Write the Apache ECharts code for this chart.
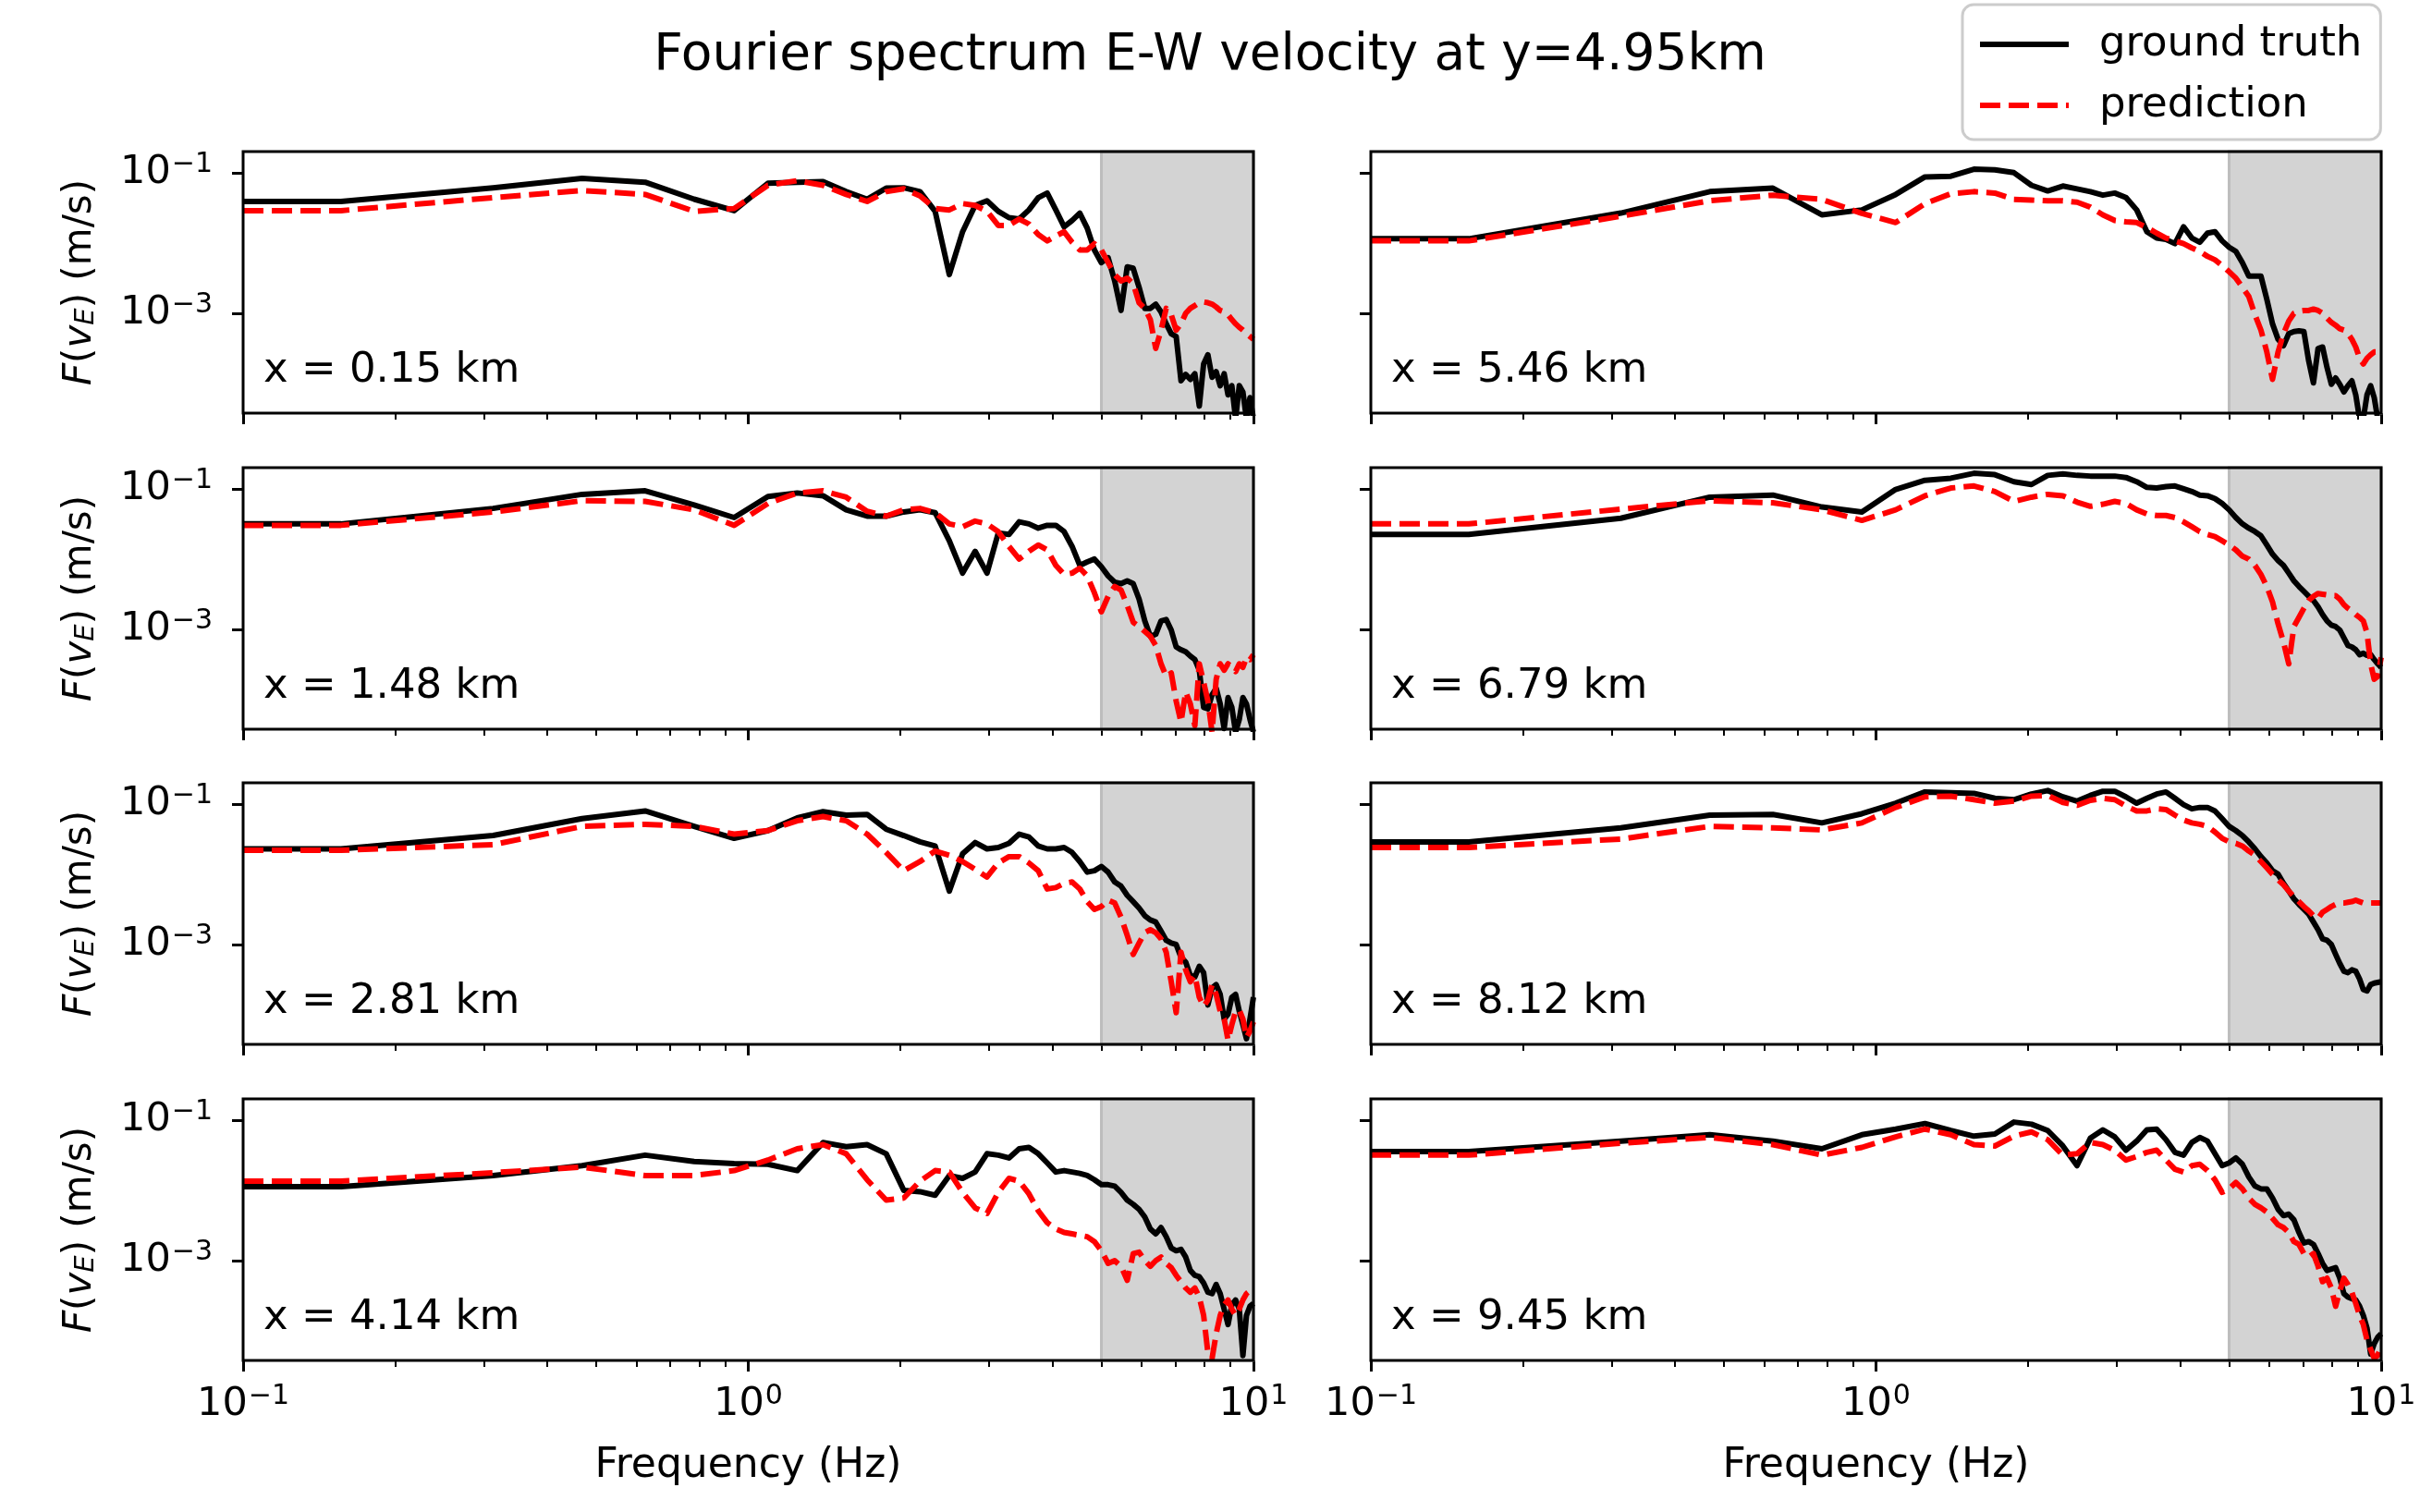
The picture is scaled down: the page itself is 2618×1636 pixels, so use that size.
<!DOCTYPE html>
<html>
<head>
<meta charset="utf-8">
<script src="https://cdn.jsdelivr.net/npm/echarts@6/dist/echarts.min.js"></script>
<style>
html, body { margin: 0; padding: 0; background: #fff; }
#main { width: 2618px; height: 1636px; }
</style>
</head>
<body>
<div id="main"></div>
<script>
// frequencies (Hz) of the spectrum samples
var freqHz = [0.1, 0.15625, 0.3125, 0.46875, 0.625, 0.78125, 0.9375, 1.09375, 1.25, 1.40625, 1.5625,
  1.71875, 1.875, 2.03125, 2.1875, 2.34375, 2.5, 2.65625, 2.8125, 2.96875, 3.125,
  3.28125, 3.4375, 3.59375, 3.75, 3.90625, 4.0625, 4.21875, 4.375, 4.53125, 4.6875,
  4.84375, 5.0, 5.15625, 5.3125, 5.46875, 5.625, 5.78125, 5.9375, 6.09375, 6.25,
  6.40625, 6.5625, 6.71875, 6.875, 7.03125, 7.1875, 7.34375, 7.5, 7.65625, 7.8125,
  7.96875, 8.125, 8.28125, 8.4375, 8.59375, 8.75, 8.90625, 9.0625, 9.21875, 9.375,
  9.53125, 9.6875, 9.84375, 10.0];

// panel labels, in reading order (left column, right column per row)
var stations = ['x = 0.15 km', 'x = 5.46 km', 'x = 1.48 km', 'x = 6.79 km',
  'x = 2.81 km', 'x = 8.12 km', 'x = 4.14 km', 'x = 9.45 km'];

// log10 of the amplitude in m/s, one value per frequency
var truth015 = [-1.41, -1.41, -1.215, -1.08, -1.136, -1.377, -1.54, -1.15, -1.136, -1.127, -1.27,
  -1.377, -1.22, -1.215, -1.27, -1.55, -2.45, -1.84, -1.465, -1.40, -1.55,
  -1.64, -1.66, -1.53, -1.355, -1.29, -1.53, -1.77, -1.68, -1.575, -1.79,
  -2.10, -2.28, -2.21, -2.54, -2.96, -2.34, -2.36, -2.63, -2.93, -2.93,
  -2.87, -2.98, -3.15, -3.29, -3.33, -3.96, -3.87, -3.94, -3.86, -4.32,
  -3.72, -3.59, -3.91, -3.83, -4.03, -3.86, -4.16, -4.03, -4.5, -4.03,
  -4.12, -4.5, -4.2, -4.5];
var pred015 = [-1.54, -1.54, -1.355, -1.254, -1.31, -1.55, -1.51, -1.18, -1.114, -1.18, -1.31,
  -1.41, -1.27, -1.23, -1.33, -1.51, -1.53, -1.44, -1.465, -1.55, -1.75,
  -1.75, -1.66, -1.73, -1.88, -1.97, -1.90, -1.84, -1.99, -2.10, -2.10,
  -2.01, -2.10, -2.28, -2.45, -2.54, -2.50, -2.58, -2.85, -2.93, -3.09,
  -3.50, -3.24, -2.93, -3.02, -3.24, -3.15, -3.0, -2.93, -2.89, -2.85,
  -2.84, -2.85, -2.87, -2.91, -2.96, -2.98, -3.02, -3.09, -3.15, -3.20,
  -3.24, -3.29, -3.33, -3.37];

var truth546 = [-1.94, -1.94, -1.575, -1.27, -1.22, -1.60, -1.53, -1.31, -1.06, -1.05, -0.95,
  -0.96, -1.0, -1.18, -1.26, -1.19, -1.23, -1.27, -1.32, -1.29, -1.355,
  -1.53, -1.84, -1.93, -1.95, -2.01, -1.77, -1.93, -1.99, -1.86, -1.84,
  -1.97, -2.06, -2.12, -2.28, -2.47, -2.47, -2.47, -2.80, -3.15, -3.37,
  -3.46, -3.29, -3.26, -3.25, -3.26, -3.68, -3.99, -3.50, -3.48, -3.77,
  -4.01, -3.92, -4.01, -4.12, -4.03, -3.96, -4.16, -4.5, -4.5, -4.16,
  -4.03, -4.2, -4.5, -4.5];
var pred546 = [-1.97, -1.97, -1.62, -1.40, -1.32, -1.38, -1.58, -1.71, -1.44, -1.30, -1.27,
  -1.29, -1.38, -1.39, -1.40, -1.40, -1.42, -1.49, -1.60, -1.68, -1.70,
  -1.71, -1.78, -1.86, -1.93, -1.97, -2.01, -2.07, -2.12, -2.19, -2.24,
  -2.32, -2.41, -2.50, -2.63, -2.76, -3.02, -3.24, -3.55, -3.94, -3.55,
  -3.29, -3.11, -3.0, -2.97, -2.96, -2.96, -2.94, -2.96, -3.0, -3.07,
  -3.13, -3.17, -3.22, -3.24, -3.29, -3.37, -3.48, -3.64, -3.72, -3.64,
  -3.59, -3.55, -3.55, -3.55];

var truth148 = [-1.50, -1.50, -1.28, -1.08, -1.03, -1.23, -1.41, -1.11, -1.06, -1.10, -1.30,
  -1.39, -1.39, -1.33, -1.30, -1.34, -1.74, -2.20, -1.89, -2.20, -1.63,
  -1.65, -1.47, -1.50, -1.56, -1.52, -1.52, -1.61, -1.82, -2.09, -2.04,
  -2.0, -2.11, -2.24, -2.33, -2.35, -2.31, -2.35, -2.57, -2.88, -3.10,
  -3.07, -2.88, -2.86, -3.01, -3.25, -3.29, -3.32, -3.38, -3.43, -3.58,
  -4.11, -4.13, -3.93, -3.84, -4.06, -4.41, -3.97, -4.11, -4.46, -4.28,
  -3.97, -4.06, -4.28, -4.46];
var pred148 = [-1.52, -1.52, -1.33, -1.17, -1.18, -1.30, -1.52, -1.21, -1.06, -1.03, -1.12,
  -1.32, -1.39, -1.30, -1.28, -1.34, -1.50, -1.54, -1.46, -1.50, -1.61,
  -1.82, -2.0, -1.89, -1.80, -1.87, -2.09, -2.22, -2.20, -2.13, -2.24,
  -2.48, -2.75, -2.53, -2.39, -2.44, -2.66, -2.90, -2.96, -3.03, -3.10,
  -3.23, -3.49, -3.67, -3.62, -4.02, -4.32, -3.89, -4.06, -4.37, -3.49,
  -3.75, -4.02, -4.46, -3.71, -3.49, -3.58, -3.49, -3.54, -3.60, -3.49,
  -3.54, -3.40, -3.43, -3.36];

var truth679 = [-1.65, -1.65, -1.42, -1.12, -1.09, -1.26, -1.33, -1.01, -0.88, -0.85, -0.78,
  -0.80, -0.90, -0.94, -0.81, -0.79, -0.81, -0.82, -0.82, -0.82, -0.84,
  -0.90, -0.98, -0.99, -0.97, -0.96, -1.0, -1.04, -1.09, -1.10, -1.14,
  -1.21, -1.30, -1.41, -1.50, -1.56, -1.61, -1.67, -1.80, -1.93, -2.02,
  -2.09, -2.20, -2.31, -2.39, -2.46, -2.53, -2.59, -2.68, -2.79, -2.88,
  -2.94, -2.96, -3.01, -3.12, -3.23, -3.25, -3.29, -3.36, -3.34, -3.37,
  -3.36, -3.43, -3.49, -3.54];
var pred679 = [-1.50, -1.50, -1.29, -1.17, -1.20, -1.30, -1.45, -1.30, -1.10, -0.99, -0.96,
  -1.04, -1.18, -1.12, -1.08, -1.10, -1.19, -1.25, -1.22, -1.18, -1.21,
  -1.30, -1.36, -1.38, -1.38, -1.41, -1.47, -1.54, -1.61, -1.65, -1.68,
  -1.74, -1.80, -1.87, -1.96, -2.0, -2.09, -2.22, -2.39, -2.61, -2.92,
  -3.18, -3.49, -2.96, -2.83, -2.70, -2.59, -2.53, -2.49, -2.50, -2.51,
  -2.52, -2.52, -2.57, -2.65, -2.70, -2.74, -2.79, -2.83, -2.88, -3.05,
  -3.49, -3.71, -3.67, -3.40];

var truth281 = [-1.64, -1.64, -1.45, -1.21, -1.10, -1.32, -1.49, -1.38, -1.20, -1.11, -1.16,
  -1.15, -1.36, -1.45, -1.54, -1.60, -2.24, -1.71, -1.55, -1.64, -1.62,
  -1.56, -1.43, -1.47, -1.60, -1.64, -1.64, -1.62, -1.69, -1.82, -1.97,
  -1.95, -1.89, -1.97, -2.11, -2.17, -2.30, -2.39, -2.48, -2.59, -2.65,
  -2.68, -2.81, -2.94, -2.98, -3.0, -3.18, -3.25, -3.44, -3.46, -3.31,
  -3.40, -3.86, -3.62, -3.57, -3.71, -4.06, -3.99, -3.75, -3.71, -3.95,
  -4.14, -4.34, -4.06, -3.75];
var pred281 = [-1.66, -1.66, -1.58, -1.32, -1.29, -1.32, -1.43, -1.38, -1.24, -1.18, -1.24,
  -1.43, -1.69, -1.95, -1.82, -1.67, -1.73, -1.82, -1.93, -2.04, -1.84,
  -1.75, -1.75, -1.84, -1.95, -2.21, -2.19, -2.13, -2.11, -2.21, -2.39,
  -2.50, -2.46, -2.37, -2.41, -2.61, -2.87, -3.14, -2.98, -2.83, -2.79,
  -2.83, -2.92, -3.11, -3.53, -3.97, -3.11, -3.36, -3.53, -3.44, -3.75,
  -3.88, -3.79, -3.57, -3.71, -3.95, -4.06, -4.36, -4.14, -3.95, -3.93,
  -4.06, -4.32, -4.23, -4.10];

var truth812 = [-1.54, -1.54, -1.34, -1.16, -1.15, -1.27, -1.14, -0.99, -0.83, -0.84, -0.85,
  -0.92, -0.94, -0.86, -0.81, -0.90, -0.96, -0.88, -0.82, -0.82, -0.90,
  -0.99, -0.92, -0.86, -0.83, -0.92, -1.01, -1.07, -1.05, -1.05, -1.10,
  -1.21, -1.32, -1.38, -1.45, -1.54, -1.64, -1.75, -1.84, -1.95, -2.0,
  -2.13, -2.24, -2.35, -2.43, -2.50, -2.57, -2.68, -2.79, -2.92, -2.94,
  -3.0, -3.14, -3.27, -3.38, -3.40, -3.36, -3.38, -3.49, -3.64, -3.66,
  -3.57, -3.55, -3.54, -3.53];
var pred812 = [-1.62, -1.62, -1.50, -1.32, -1.34, -1.37, -1.27, -1.05, -0.90, -0.89, -0.94,
  -0.99, -0.96, -0.89, -0.88, -0.98, -1.02, -0.95, -0.92, -0.94, -1.03,
  -1.10, -1.10, -1.07, -1.08, -1.16, -1.23, -1.27, -1.29, -1.32, -1.40,
  -1.49, -1.54, -1.56, -1.60, -1.67, -1.73, -1.82, -1.91, -2.0, -2.08,
  -2.15, -2.24, -2.32, -2.39, -2.46, -2.52, -2.59, -2.63, -2.54, -2.50,
  -2.46, -2.43, -2.41, -2.41, -2.40, -2.39, -2.37, -2.39, -2.41, -2.41,
  -2.41, -2.41, -2.41, -2.41];

var truth414 = [-1.95, -1.95, -1.79, -1.65, -1.50, -1.59, -1.62, -1.63, -1.72, -1.32, -1.38,
  -1.35, -1.48, -2.0, -2.02, -2.07, -1.79, -1.83, -1.74, -1.48, -1.50,
  -1.54, -1.41, -1.39, -1.48, -1.61, -1.74, -1.72, -1.74, -1.76, -1.79,
  -1.85, -1.92, -1.92, -1.94, -2.03, -2.14, -2.20, -2.27, -2.38, -2.55,
  -2.62, -2.53, -2.66, -2.82, -2.86, -2.84, -2.95, -3.14, -3.21, -3.23,
  -3.32, -3.45, -3.47, -3.34, -3.47, -3.69, -3.91, -3.63, -3.56, -3.69,
  -4.35, -3.78, -3.65, -3.61];
var pred414 = [-1.87, -1.87, -1.75, -1.67, -1.79, -1.79, -1.72, -1.57, -1.41, -1.35, -1.48,
  -1.85, -2.14, -2.11, -1.87, -1.72, -1.74, -2.03, -2.25, -2.33, -2.03,
  -1.83, -1.87, -2.05, -2.29, -2.46, -2.55, -2.60, -2.62, -2.64, -2.66,
  -2.73, -2.86, -3.04, -3.00, -3.08, -3.28, -2.90, -2.88, -3.0, -3.08,
  -3.00, -2.95, -3.04, -3.10, -3.21, -3.30, -3.39, -3.45, -3.39, -3.52,
  -3.78, -4.31, -4.39, -4.04, -3.78, -3.63, -3.56, -3.69, -3.78, -3.69,
  -3.56, -3.47, -3.43, -3.41];

var truth945 = [-1.45, -1.45, -1.30, -1.21, -1.30, -1.41, -1.21, -1.13, -1.05, -1.15, -1.23,
  -1.20, -1.03, -1.06, -1.15, -1.37, -1.65, -1.26, -1.14, -1.24, -1.43,
  -1.30, -1.14, -1.13, -1.28, -1.46, -1.50, -1.32, -1.25, -1.30, -1.48,
  -1.65, -1.61, -1.54, -1.63, -1.81, -1.94, -1.98, -1.98, -2.11, -2.27,
  -2.36, -2.34, -2.42, -2.60, -2.75, -2.73, -2.77, -2.90, -3.04, -3.14,
  -3.12, -3.10, -3.25, -3.47, -3.52, -3.54, -3.56, -3.65, -3.78, -3.96,
  -4.33, -4.18, -4.09, -4.04];
var pred945 = [-1.50, -1.50, -1.33, -1.25, -1.35, -1.50, -1.39, -1.24, -1.13, -1.21, -1.35,
  -1.37, -1.23, -1.17, -1.28, -1.50, -1.48, -1.32, -1.35, -1.43, -1.57,
  -1.52, -1.46, -1.43, -1.57, -1.70, -1.74, -1.65, -1.63, -1.72, -1.85,
  -2.03, -1.98, -1.89, -1.98, -2.11, -2.20, -2.25, -2.31, -2.40, -2.49,
  -2.53, -2.60, -2.73, -2.77, -2.90, -2.95, -2.90, -3.08, -3.30, -3.25,
  -3.39, -3.65, -3.43, -3.25, -3.34, -3.45, -3.61, -3.78, -3.91, -4.13,
  -4.26, -4.39, -4.35, -4.22];

var truthSets = [truth015, truth546, truth148, truth679, truth281, truth812, truth414, truth945];
var predSets = [pred015, pred546, pred148, pred679, pred281, pred812, pred414, pred945];

// axis ticks: powers of ten (exponents) and minor tick frequencies
var xTickExps = [-1, 0, 1];
var xMinorHz = [0.2, 0.3, 0.4, 0.5, 0.6, 0.7, 0.8, 0.9, 2, 3, 4, 5, 6, 7, 8, 9];
var yTickExps = [-3, -1];
var bandHz = [5, 10];   // shaded band

var FONT = 'DejaVu Sans';
var chart = echarts.init(document.getElementById('main'), null, { renderer: 'canvas' });

// layout of the 4 x 2 panels (px)
var colLeft = [263, 1483];
var rowTop = [164, 506, 847, 1189];
var panelW = 1093, panelH = 283;
var yMin = -4.42, yMax = -0.70;

function expLabel(v) {
  var e = v < 0 ? '\u2212' + (-v) : '' + v;
  return '{b|10}{s|' + e + '}';
}
var expRich = {
  b: { fontSize: 43, fontFamily: FONT, color: '#000', lineHeight: 48 },
  s: { fontSize: 30, fontFamily: FONT, color: '#000', lineHeight: 48, verticalAlign: 'top', padding: [0, 0, 0, 1] }
};

var grids = [], xAxes = [], yAxes = [], series = [], graphics = [];
var minorExps = xMinorHz.map(function (f) { return Math.log10(f); });

for (var i = 0; i < 8; i++) {
  var row = Math.floor(i / 2), col = i % 2;
  grids.push({
    left: colLeft[col], top: rowTop[row], width: panelW, height: panelH,
    show: true, borderColor: '#000', borderWidth: 3, backgroundColor: 'rgba(0,0,0,0)', z: 10
  });
}
// major x axes
for (var i = 0; i < 8; i++) {
  var row = Math.floor(i / 2);
  xAxes.push({
    type: 'value', gridIndex: i, min: -1, max: 1, position: 'bottom',
    axisLine: { show: false, onZero: false },
    splitLine: { show: false },
    axisTick: { show: true, customValues: xTickExps, length: 12, lineStyle: { color: '#000', width: 3 } },
    axisLabel: { show: row === 3, customValues: xTickExps, formatter: expLabel, margin: 24, rich: expRich },
    name: row === 3 ? 'Frequency (Hz)' : '',
    nameLocation: 'middle', nameGap: 93,
    nameTextStyle: { fontSize: 44, fontFamily: FONT, color: '#000' }
  });
}
// minor x ticks
for (var i = 0; i < 8; i++) {
  xAxes.push({
    type: 'value', gridIndex: i, min: -1, max: 1, position: 'bottom',
    axisLine: { show: false, onZero: false },
    splitLine: { show: false },
    axisTick: { show: true, customValues: minorExps, length: 7, lineStyle: { color: '#000', width: 2 } },
    axisLabel: { show: false }
  });
}
for (var i = 0; i < 8; i++) {
  var col = i % 2;
  yAxes.push({
    type: 'value', gridIndex: i, min: yMin, max: yMax,
    axisLine: { show: false, onZero: false },
    splitLine: { show: false },
    axisTick: { show: true, customValues: yTickExps, length: 12, lineStyle: { color: '#000', width: 3 } },
    axisLabel: { show: col === 0, customValues: yTickExps, formatter: expLabel, margin: 33, rich: expRich },
    name: col === 0 ? '{i|F}({i|v}{e|E}) (m/s)' : '',
    nameLocation: 'middle', nameRotate: 90, nameGap: 155,
    nameTextStyle: {
      fontSize: 42, fontFamily: FONT, color: '#000',
      rich: {
        i: { fontSize: 42, fontFamily: FONT, fontStyle: 'italic', color: '#000' },
        e: { fontSize: 29, fontFamily: FONT, fontStyle: 'italic', color: '#000', verticalAlign: 'bottom' }
      }
    }
  });
}

for (var i = 0; i < 8; i++) {
  var row = Math.floor(i / 2), col = i % 2;
  var t = truthSets[i], p = predSets[i];
  var tData = [], pData = [];
  for (var k = 0; k < freqHz.length; k++) {
    var lx = Math.log10(freqHz[k]);
    if (k < t.length) tData.push([lx, t[k]]);
    if (k < p.length) pData.push([lx, p[k]]);
  }
  series.push({
    type: 'line', name: 'band', xAxisIndex: i, yAxisIndex: i, data: [], z: 1,
    markArea: {
      silent: true,
      itemStyle: { color: '#d3d3d3', borderColor: '#bdbdbd', borderWidth: 3 },
      data: [[{ xAxis: Math.log10(bandHz[0]) }, { xAxis: Math.log10(bandHz[1]) }]]
    }
  });
  series.push({
    type: 'line', name: 'ground truth', xAxisIndex: i, yAxisIndex: i, data: tData,
    symbol: 'none', z: 3,
    lineStyle: { color: '#000', width: 6, join: 'round' },
    itemStyle: { color: '#000' }
  });
  series.push({
    type: 'line', name: 'prediction', xAxisIndex: i, yAxisIndex: i, data: pData,
    symbol: 'none', z: 4,
    lineStyle: { color: '#ff0000', width: 6, type: [22, 9], join: 'round' },
    itemStyle: { color: '#ff0000' }
  });
  graphics.push({
    type: 'text', x: colLeft[col] + 22, y: rowTop[row] + 237, z: 20,
    style: { text: stations[i], fontSize: 45, fontFamily: FONT, fill: '#000', verticalAlign: 'middle' }
  });
}

chart.setOption({
  animation: false,
  backgroundColor: '#fff',
  title: {
    text: 'Fourier spectrum E-W velocity at y=4.95km',
    left: 'center', top: 28,
    textStyle: { fontSize: 55, fontWeight: 'normal', fontFamily: FONT, color: '#000' }
  },
  legend: {
    data: ['ground truth', 'prediction'],
    orient: 'vertical', left: 2123, top: 5,
    itemWidth: 96, itemHeight: 20, itemGap: 16,
    padding: [18, 20, 12, 16],
    borderColor: '#cccccc', borderWidth: 3, borderRadius: 12,
    backgroundColor: '#fff', selectedMode: false,
    itemStyle: { opacity: 0 },
    lineStyle: { width: 6 },
    textStyle: { fontSize: 45, fontFamily: FONT, color: '#000', lineHeight: 50, padding: [0, 0, 0, 28] }
  },
  grid: grids,
  xAxis: xAxes,
  yAxis: yAxes,
  series: series,
  graphic: graphics
});
</script>
</body>
</html>
